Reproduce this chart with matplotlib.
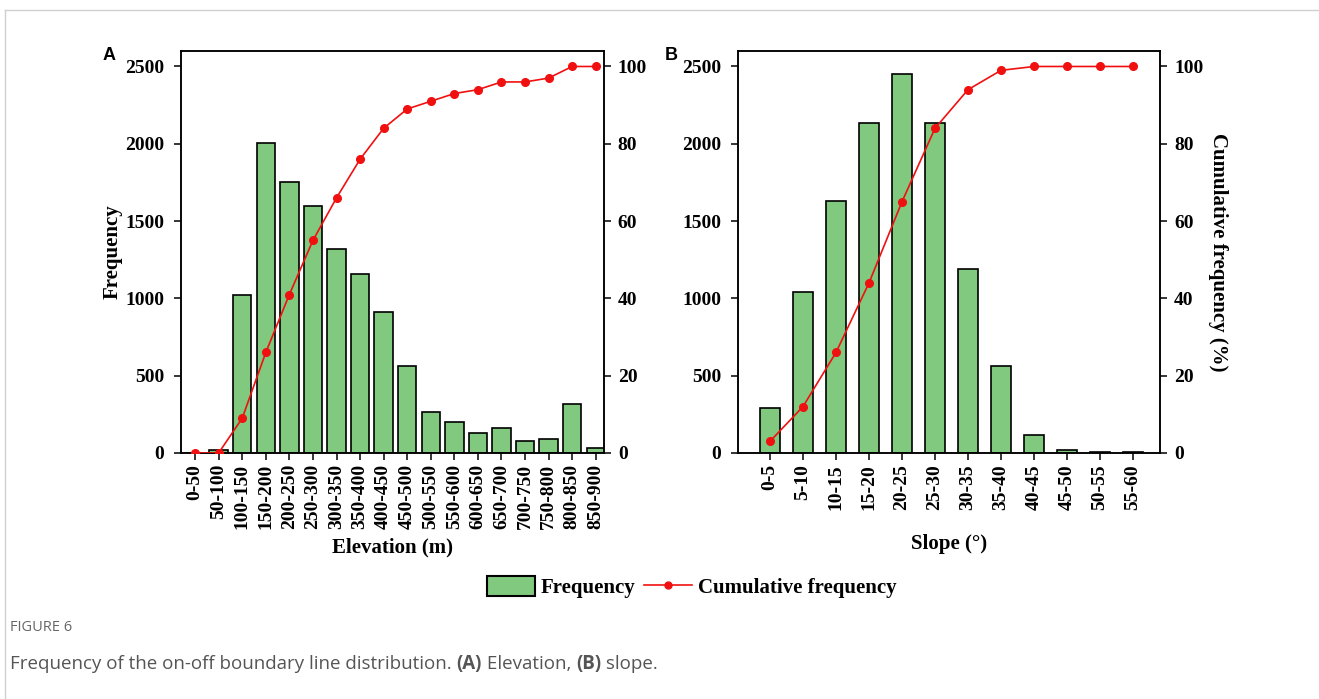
import numpy as np
import matplotlib.pyplot as plt
from matplotlib.lines import Line2D
from matplotlib.patches import Patch

# elevation classes (m)
elev_bins = ['0-50', '50-100', '100-150', '150-200', '200-250', '250-300',
             '300-350', '350-400', '400-450', '450-500', '500-550', '550-600',
             '600-650', '650-700', '700-750', '750-800', '800-850', '850-900']
elev_freq = [0, 20, 1020, 2007, 1750, 1599, 1318, 1156, 914, 560,
             266, 201, 127, 164, 76, 89, 318, 32]
elev_cum = [0, 0, 9, 26, 41, 55, 66, 76, 84, 89,
            91, 93, 94, 96, 96, 97, 100, 100]

# slope classes (degrees)
slope_bins = ['0-5', '5-10', '10-15', '15-20', '20-25', '25-30',
              '30-35', '35-40', '40-45', '45-50', '50-55', '55-60']
slope_freq = [290, 1041, 1629, 2133, 2452, 2137, 1193, 560, 115, 17, 6, 5]
slope_cum = [3, 12, 26, 44, 65, 84, 94, 99, 100, 100, 100, 100]

bar_color = '#80C97F'
line_color = '#F01010'

plt.rcParams['font.family'] = 'Liberation Serif'
plt.rcParams['font.weight'] = 'bold'
plt.rcParams['axes.labelweight'] = 'bold'

fig = plt.figure(figsize=(13.19, 6.99), dpi=100)
ax_a = fig.add_axes([0.1372, 0.352, 0.3207, 0.575])
ax_b = fig.add_axes([0.5595, 0.352, 0.32, 0.575])


def draw_panel(ax, bins, freq, cum, width, xlim):
    x = np.arange(len(bins))
    ax.bar(x, freq, width=width, color=bar_color, edgecolor='black', linewidth=1.2, zorder=2)
    ax.set_xlim(*xlim)
    ax.set_ylim(0, 2600)
    ax.set_yticks(range(0, 2501, 500))
    ax.set_xticks(x)
    ax.set_xticklabels(bins, rotation=90)
    ax.tick_params(labelsize=14, width=1.1, length=5, direction='out', pad=3)
    ax.tick_params(axis='y', pad=7)
    for s in ax.spines.values():
        s.set_linewidth(1.1)

    ax2 = ax.twinx()
    ax2.plot(x, cum, color=line_color, marker='o', ms=5.5, lw=1.2, zorder=3)
    ax2.set_ylim(0, 104)
    ax2.set_yticks(range(0, 101, 20))
    ax2.tick_params(labelsize=14, width=1.1, length=5, direction='out', pad=5)
    for s in ax2.spines.values():
        s.set_linewidth(1.1)
    return ax2


ax_a2 = draw_panel(ax_a, elev_bins, elev_freq, elev_cum, 0.78, (-0.6, 17.35))
ax_b2 = draw_panel(ax_b, slope_bins, slope_freq, slope_cum, 0.6, (-0.97, 11.82))

ax_a.set_ylabel('Frequency', fontsize=15, labelpad=2)
ax_a.set_xlabel('Elevation (m)', fontsize=15, labelpad=6)
ax_b.set_xlabel('Slope (°)', fontsize=15, labelpad=17)
ax_b2.set_ylabel('Cumulative frequency (%)', fontsize=15, rotation=270, labelpad=18)

fig.text(0.083, 0.921, 'A', fontsize=13, fontweight='bold', family='Liberation Sans',
         ha='center', va='center')
fig.text(0.509, 0.921, 'B', fontsize=13, fontweight='bold', family='Liberation Sans',
         ha='center', va='center')

handles = [Patch(facecolor=bar_color, edgecolor='black', linewidth=1.5),
           Line2D([], [], color=line_color, marker='o', ms=5, lw=1.2)]
fig.legend(handles, ['Frequency', 'Cumulative frequency'], loc='center',
           bbox_to_anchor=(0.5246, 0.160), ncol=2, frameon=False, fontsize=15,
           handlelength=2.3, handleheight=1.1, handletextpad=0.3, columnspacing=0.4)

# figure frame and caption
fig.add_artist(Line2D([0.004, 1], [0.9857, 0.9857], transform=fig.transFigure,
                      color='#d0d0d0', lw=1))
fig.add_artist(Line2D([0.004, 0.004], [0, 0.9857], transform=fig.transFigure,
                      color='#d0d0d0', lw=1))
fig.text(0.0076, 0.103, 'FIGURE 6', fontsize=10.5, family='Open Sans', fontweight='normal',
         color='#666666', va='center')

caption = [('Frequency of the on-off boundary line distribution. ', 'normal'),
           ('(A)', 'bold'), (' Elevation, ', 'normal'), ('(B)', 'bold'), (' slope.', 'normal')]
fig.canvas.draw()
renderer = fig.canvas.get_renderer()
x0 = 0.0076
for part, weight in caption:
    t = fig.text(x0, 0.050, part, fontsize=13.5, family='Open Sans', fontweight=weight,
                 color='#555555', va='center')
    bb = t.get_window_extent(renderer)
    x0 = fig.transFigure.inverted().transform((bb.x1, 0))[0]

fig.savefig('out.png', dpi=100)
